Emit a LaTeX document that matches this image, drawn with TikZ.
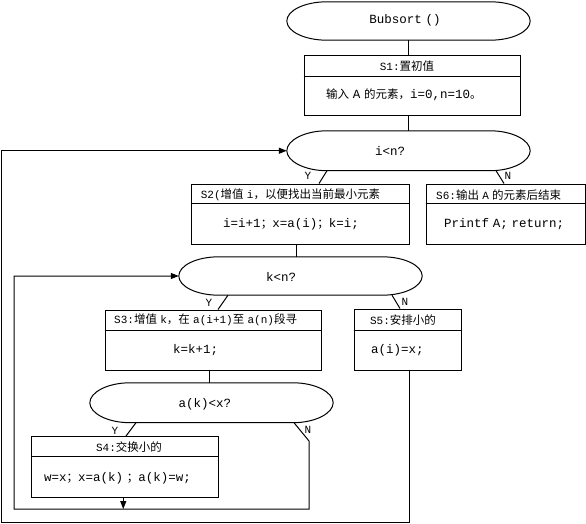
\documentclass[tikz,border=0pt]{standalone}
\usepackage{fontspec}
\newfontfamily\cjk{Noto Sans CJK SC}
\newfontfamily\lat{Liberation Mono}[WordSpace=0.5]
\usetikzlibrary{arrows.meta,calc}
\newcommand\zh[1]{{\cjk\fontsize{11.5pt}{13pt}\selectfont #1}}
\newcommand\termshape[1]{\draw[conn] ([xshift=40pt]#1.north west) -- ([xshift=-40pt]#1.north east)
 .. controls ([xshift=-17.9pt]#1.north east) and ([yshift=10.5pt]#1.east) .. (#1.east)
 .. controls ([yshift=-10.5pt]#1.east) and ([xshift=-17.9pt]#1.south east) .. ([xshift=-40pt]#1.south east)
 -- ([xshift=40pt]#1.south west)
 .. controls ([xshift=17.9pt]#1.south west) and ([yshift=-10.5pt]#1.west) .. (#1.west)
 .. controls ([yshift=10.5pt]#1.west) and ([xshift=17.9pt]#1.north west) .. ([xshift=40pt]#1.north west) -- cycle;}
\tikzset{
 lbl/.style={font=\lat\fontsize{12.5pt}{15pt}\selectfont, inner sep=0pt},
 ttl/.style={font=\lat\fontsize{11pt}{13pt}\selectfont, inner sep=0pt},
 box/.style={draw, line width=1pt, inner sep=0pt},
 term/.style={inner sep=0pt, minimum width=243pt},
 conn/.style={line width=1pt},
 tip/.style={-{Triangle[length=8pt,width=6pt]}},
}
\begin{document}
\begin{tikzpicture}[x=1pt,y=-1pt]
\useasboundingbox (0,0) rectangle (586,524);
% terminal / decision shapes
\node[term, minimum height=38pt] (bub) at (408.5,21) {};
\node[term, minimum height=39.5pt] (in) at (408.5,150.75) {};
\node[term, minimum height=38pt] (kn) at (300.5,276) {};
\node[term, minimum height=39.5pt] (ak) at (211.5,402.75) {};
\termshape{bub}
\termshape{in}
\termshape{kn}
\termshape{ak}
% boxes
\node[box, minimum width=216pt, minimum height=60pt] (s1) at (412,86) {};
\node[box, minimum width=218pt, minimum height=60pt] (s2) at (300,214) {};
\node[box, minimum width=159pt, minimum height=60pt] (s6) at (505.5,214) {};
\node[box, minimum width=216pt, minimum height=60pt] (s3) at (213,340) {};
\node[box, minimum width=107pt, minimum height=61pt] (s5) at (407.5,339.5) {};
\node[box, minimum width=186.5pt, minimum height=61pt] (s4) at (124.75,467) {};
\draw[conn] ([yshift=-21pt]s1.north west) -- ([yshift=-21pt]s1.north east);
\draw[conn] ([yshift=-20pt]s2.north west) -- ([yshift=-20pt]s2.north east);
\draw[conn] ([yshift=-20pt]s6.north west) -- ([yshift=-20pt]s6.north east);
\draw[conn] ([yshift=-21pt]s3.north west) -- ([yshift=-21pt]s3.north east);
\draw[conn] ([yshift=-22pt]s5.north west) -- ([yshift=-22pt]s5.north east);
\draw[conn] ([yshift=-20.5pt]s4.north west) -- ([yshift=-20.5pt]s4.north east);
% texts
\node[lbl] (bubt) at (405,20) {Bubsort ()};
\node[ttl] (s1t) at (407,66.5) {S1:\zh{置初值}};
\node[lbl, anchor=west] (s1c) at (326,95) {\zh{输入} A \zh{的元素，}i=0,n=10\zh{。}};
\node[lbl] (int) at (390,151) {i<n?};
\node[ttl] (iny) at (308,176) {Y};
\node[ttl] (inn) at (508,176) {N};
\node[ttl, anchor=west] (s2t) at (200.6,195) {S2(\zh{增值} i\zh{，以便找出当前最小元素}};
\node[lbl] (s2c) at (291,224) {i=i+1\zh{；}x=a(i)\zh{；}k=i;};
\node[ttl, anchor=west] (s6t) at (436,195) {S6:\zh{输出} A \zh{的元素后结束}};
\node[lbl, anchor=west] (s6c) at (444,224) {Printf A; return;};
\node[lbl] (knt) at (281,277) {k<n?};
\node[ttl] (kny) at (209,303) {Y};
\node[ttl] (knn) at (405,302) {N};
\node[ttl, anchor=west] (s3t) at (114,320) {S3:\zh{增值} k\zh{，在} a(i+1)\zh{至} a(n)\zh{段寻}};
\node[lbl, anchor=west] (s3c) at (173,350) {k=k+1;};
\node[ttl] (s5t) at (403,320) {S5:\zh{安排小的}};
\node[lbl, anchor=west] (s5c) at (371,350) {a(i)=x;};
\node[lbl] (akt) at (205,404) {a(k)<x?};
\node[ttl] (aky) at (115,431) {Y};
\node[ttl] (akn) at (308,430) {N};
\node[ttl] (s4t) at (129,447) {S4:\zh{交换小的}};
\node[lbl, anchor=west] (s4c) at (44,478) {w=x\zh{；}x=a(k) \zh{；}a(k)=w;};
% connectors
\coordinate (loopA) at (309,441);
\coordinate (loopB) at (14,509);
\coordinate (outB) at (1.5,522.5);
\draw[conn] (bub.south) -- (bub.south |- s1.north);
\draw[conn] (in.north |- s1.south) -- (in.north);
\draw[conn] ([xshift=-81.5pt]in.south) -- ([xshift=19pt]s2.north);
\draw[conn] ([xshift=87.5pt]in.south) -- ([xshift=-1.5pt]s6.north);
\draw[conn] ([xshift=-4pt]s2.south) -- ([xshift=-4pt]s2.south |- kn.north);
\draw[conn] ([xshift=-72.5pt]kn.south) -- ([xshift=5pt]s3.north);
\draw[conn] ([xshift=91.5pt]kn.south) -- ([xshift=-7.5pt]s5.north);
\draw[conn] ([xshift=-4pt]s3.south) -- ([xshift=-4pt]s3.south |- ak.north);
\draw[conn] ([xshift=-75.5pt]ak.south) -- ([xshift=1.25pt]s4.north);
\draw[conn, tip] ([xshift=82.5pt]ak.south) -- (loopA) -- (loopA |- loopB) -- (loopB) |- (kn.west);
\draw[conn, tip] ([xshift=-1.5pt]s4.south) -- ([xshift=-1.5pt]s4.south |- loopB);
\draw[conn, tip] ([xshift=1.5pt]s5.south) -- ([xshift=1.5pt]s5.south |- outB) -- (outB) |- (in.west);
\end{tikzpicture}
\end{document}
